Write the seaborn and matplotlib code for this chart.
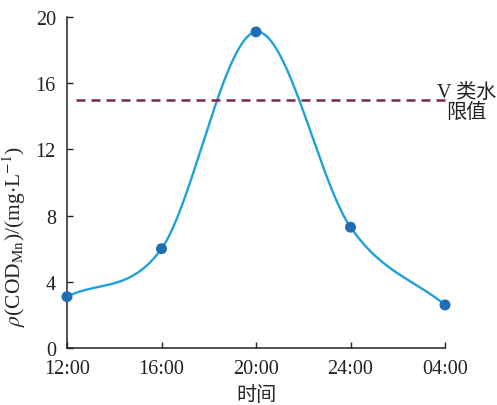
import numpy as np
import pandas as pd
import matplotlib
matplotlib.use("Agg")
import matplotlib.pyplot as plt
import seaborn as sns

# data
times = ["12:00", "16:00", "20:00", "24:00", "04:00"]
cod = [3.1, 6.0, 19.1, 7.3, 2.6]
limit_v = 15.0
y_ticks = [0, 4, 8, 12, 16, 20]


def smooth_curve(x, y, n=300):
    # cubic Hermite through the measured points, Catmull-Rom tangents
    x = np.asarray(x, float)
    y = np.asarray(y, float)
    m = np.zeros_like(y)
    m[1:-1] = (y[2:] - y[:-2]) / (x[2:] - x[:-2])
    m[0] = (y[1] - y[0]) / (x[1] - x[0])
    m[-1] = (y[-1] - y[-2]) / (x[-1] - x[-2])
    xs = np.linspace(x[0], x[-1], n)
    i = np.clip(np.searchsorted(x, xs) - 1, 0, len(x) - 2)
    h = x[i + 1] - x[i]
    t = (xs - x[i]) / h
    h00 = 2 * t**3 - 3 * t**2 + 1
    h10 = t**3 - 2 * t**2 + t
    h01 = -2 * t**3 + 3 * t**2
    h11 = t**3 - t**2
    ys = h00 * y[i] + h10 * h * m[i] + h01 * y[i + 1] + h11 * h * m[i + 1]
    return xs, ys


sns.set_style("ticks")
plt.rcParams["font.family"] = ["Liberation Serif", "Noto Sans CJK SC"]
plt.rcParams["mathtext.fontset"] = "stix"

pos = np.arange(len(times))
df = pd.DataFrame({"pos": pos, "cod": cod})
xs, ys = smooth_curve(pos, cod)
curve = pd.DataFrame({"x": xs, "y": ys})

fig = plt.figure(figsize=(4.97, 4.06), dpi=100)
ax = fig.add_axes([0.1348, 0.1404, 0.7606, 0.8153])

sns.lineplot(data=curve, x="x", y="y", ax=ax, color="#1ea2dc", lw=1.7, clip_on=False)
sns.scatterplot(data=df, x="pos", y="cod", ax=ax, color="#1f6db4", s=62,
                edgecolor="none", zorder=5, clip_on=False)
ax.hlines(limit_v, 0.1, 4.0, colors="#7b2b47", linestyles=(0, (3.6, 2.4)),
          lw=1.8, clip_on=False)
ax.text(4.23, 14.83, "V 类水\n限值", ha="center", va="center", fontsize=14.5,
        linespacing=1.1, color="#222222")

ax.set_xlim(0, 4)
ax.set_ylim(0, 20)
ax.set_xticks(pos)
ax.set_xticklabels(times)
ax.set_yticks(y_ticks)
ax.tick_params(direction="in", length=4, width=1, labelsize=14.5, colors="#222222",
               labelcolor="#222222")
ax.tick_params(axis="y", pad=8)
ax.tick_params(axis="x", pad=8)
for s in ["top", "right"]:
    ax.spines[s].set_visible(False)
for s in ["left", "bottom"]:
    ax.spines[s].set_linewidth(1.1)
    ax.spines[s].set_color("#222222")

ax.set_xlabel("时间", fontsize=14.5, labelpad=6)
ax.set_ylabel(r"$\rho$(COD$_{\rm Mn}$)/(mg$\cdot$L$^{-1}$)", fontsize=15.5)
ax.yaxis.set_label_coords(-0.103, 0.34)

fig.savefig("out.png", dpi=100)
